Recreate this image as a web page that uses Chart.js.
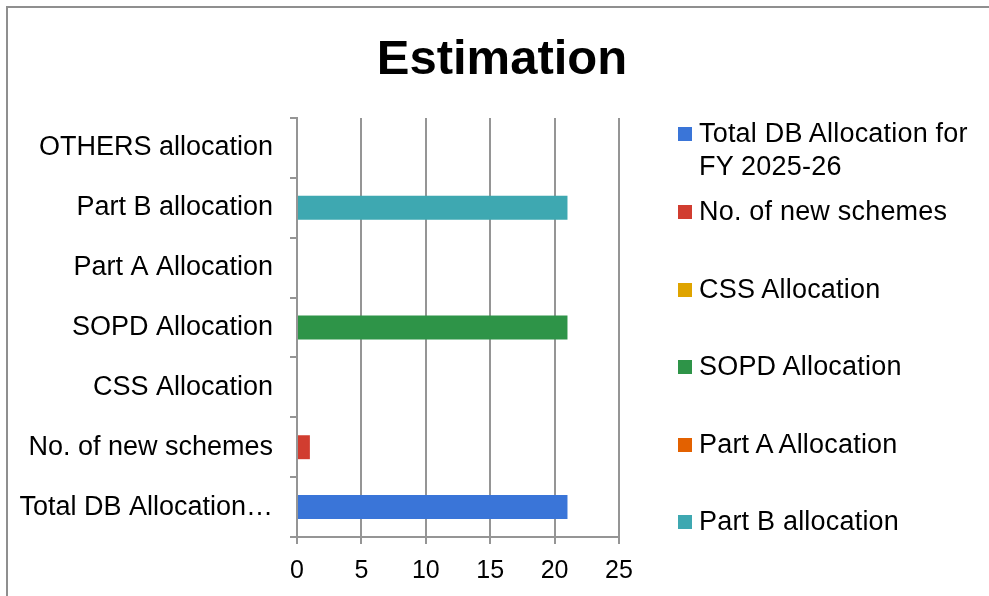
<!DOCTYPE html>
<html>
<head>
<meta charset="utf-8">
<script src="https://cdn.jsdelivr.net/npm/chart.js@4.4.1/dist/chart.umd.min.js"></script>
<style>
  body { margin: 0; background: #fff; overflow: hidden; font-family: "Liberation Sans", Arial, sans-serif; }
  #wrap { position: relative; width: 989px; height: 596px; }
  #frame { position: absolute; left: 6px; top: 6px; width: 1100px; height: 700px;
           border-left: 2px solid #8f8f8f; border-top: 2px solid #8f8f8f; }
  #titre { position: absolute; left: 0; width: 1004px; top: 27px; text-align: center;
           font-weight: bold; font-size: 49px; line-height: 60px; color: #000; }
  canvas { position: absolute; left: 0; top: 0; }
  #legende { position: absolute; left: 678px; top: 117px; width: 300px; }
  .item { display: flex; align-items: flex-start; font-size: 27px; line-height: 33px; color: #000; letter-spacing: 0.2px; }
  .carre { width: 14px; height: 14px; margin-top: 10px; margin-right: 7px; flex: none; }
</style>
</head>
<body>
<div id="wrap">
  <div id="frame"></div>
  <div id="titre">Estimation</div>
  <canvas id="myChart" width="989" height="596"></canvas>
  <div id="legende"></div>
</div>
<script>
// catégories de l'axe vertical (de bas en haut)
const categories = ['Total DB Allocation for FY 2025-26', 'No. of new schemes', 'CSS Allocation',
  'SOPD Allocation', 'Part A Allocation', 'Part B allocation', 'OTHERS allocation'];
// séries (une par couleur)
const seriesNames = ['Total DB Allocation for FY 2025-26', 'No. of new schemes', 'CSS Allocation',
  'SOPD Allocation', 'Part A Allocation', 'Part B allocation'];
const seriesValues = [21, 1, 0, 21, 0, 21];
const seriesColors = ['#3a75d8', '#d13d30', '#dfa400', '#2e9448', '#e36100', '#3ea8b1'];
const xTicks = [0, 5, 10, 15, 20, 25];

const gris = '#959595';
const police = '"Liberation Sans", Arial, sans-serif';

// chaque série n'a de valeur que sur sa propre catégorie
const datasets = seriesNames.map((name, i) => ({
  label: name,
  data: categories.map((c, j) => (j === i ? seriesValues[i] : null)),
  backgroundColor: seriesColors[i],
  categoryPercentage: 1,
  barPercentage: 0.4
}));

const ctx = document.getElementById('myChart').getContext('2d');
const myChart = new Chart(ctx, {
  type: 'bar',
  data: { labels: categories, datasets: datasets },
  options: {
    indexAxis: 'y',
    responsive: false,
    animation: false,
    devicePixelRatio: 1,
    layout: { padding: { left: 0, right: 370, top: 118, bottom: 0 } },
    plugins: { legend: { display: false }, title: { display: false }, tooltip: { enabled: false } },
    scales: {
      x: {
        stacked: true,
        min: xTicks[0],
        max: xTicks[xTicks.length - 1],
        ticks: { stepSize: xTicks[1] - xTicks[0], color: '#000', font: { family: police, size: 25 }, padding: 12 },
        grid: { color: gris, lineWidth: 2, tickLength: 7 },
        border: { display: true, color: gris, width: 2 },
        afterFit: s => { s.height = 59; }
      },
      y: {
        stacked: true,
        reverse: true,
        ticks: {
          color: '#000',
          font: { family: police, size: 27 },
          padding: 17,
          callback: function (value) {
            const lab = this.getLabelForValue(value);
            return lab.length > 20 ? lab.slice(0, 19) + '…' : lab;
          }
        },
        grid: { drawOnChartArea: false, color: gris, lineWidth: 2, tickLength: 7, offset: true },
        border: { display: true, color: gris, width: 2 },
        afterFit: s => { s.width = 297; }
      }
    }
  }
});

// légende à droite (texte sur deux lignes pour la première)
const legende = document.getElementById('legende');
const marges = [0, 12, 44.5, 44.5, 44.5, 44.5];
seriesNames.forEach((name, i) => {
  const item = document.createElement('div');
  item.className = 'item';
  item.style.marginTop = marges[i] + 'px';
  item.innerHTML = '<div class="carre" style="background:' + seriesColors[i] + '"></div><div>' + name + '</div>';
  legende.appendChild(item);
});
</script>
</body>
</html>
